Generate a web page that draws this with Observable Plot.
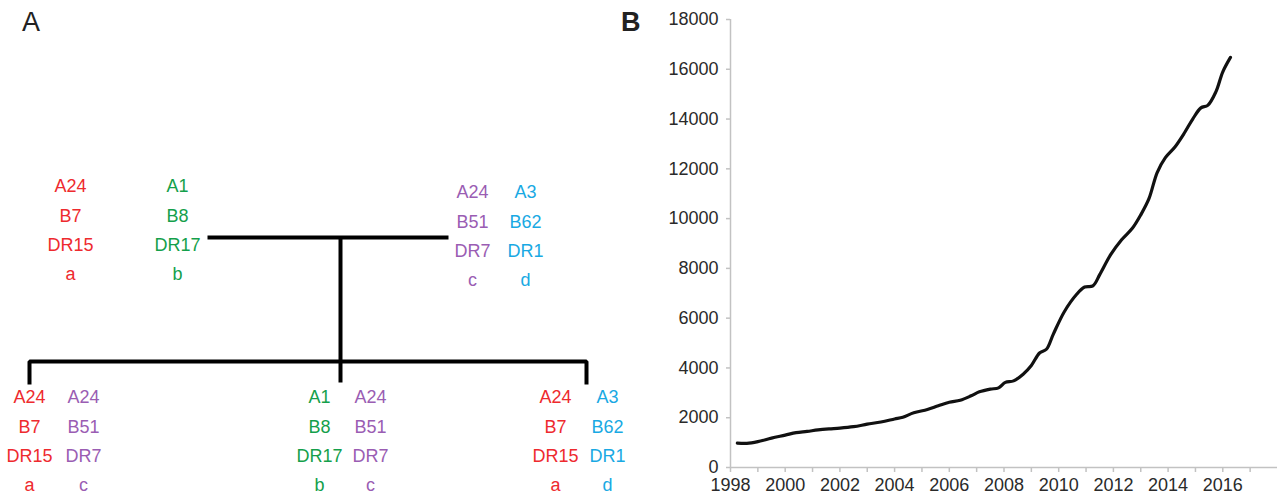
<!DOCTYPE html>
<html><head><meta charset="utf-8">
<script src="https://cdn.jsdelivr.net/npm/d3@7"></script>
<script src="https://cdn.jsdelivr.net/npm/@observablehq/plot@0.6"></script>
<style>
body{margin:0;background:#fff;}
#wrap{position:relative;width:1277px;height:494px;font-family:"Liberation Sans",Arial,sans-serif;overflow:hidden;}
#panelA{position:absolute;left:0;top:0;}
#panelB{position:absolute;left:620px;top:0;}
.lbl{position:absolute;font-size:27px;color:#222;line-height:1;font-family:"Liberation Sans",Arial,sans-serif;}
</style></head><body>
<div id="wrap">
<div id="panelA"></div><div id="panelB"></div>
<div class="lbl" style="left:22px;top:9px">A</div>
<div class="lbl" style="left:621px;top:9px;font-weight:600">B</div>
</div>
<script>
// ---------- Panel A data: HLA haplotypes and family ----------
const haplotypeIds = ["a", "b", "c", "d"];
const hlaA = ["A24", "A1", "A24", "A3"];
const hlaB = ["B7", "B8", "B51", "B62"];
const hlaDR = ["DR15", "DR17", "DR7", "DR1"];
const haplotypeColors = ["#ee2a2e", "#14a04b", "#9a5db3", "#19a9e3"];
const parentHaplotypes = [["a", "b"], ["c", "d"]];
const childHaplotypes = [["a", "c"], ["b", "c"], ["a", "d"]];

// ---------- Panel B data: cumulative count by year ----------
const years = [1998.25, 1998.6, 1999.0, 1999.5, 2000.0, 2000.4, 2000.8, 2001.2, 2001.6, 2002.0,
  2002.5, 2003.0, 2003.5, 2004.0, 2004.3, 2004.7, 2005.2, 2005.6, 2006.0, 2006.4,
  2006.8, 2007.1, 2007.5, 2007.8, 2008.05, 2008.35, 2008.7, 2009.0, 2009.3, 2009.55,
  2009.8, 2010.2, 2010.65, 2010.95, 2011.25, 2011.5, 2011.9, 2012.3, 2012.7, 2013.0,
  2013.3, 2013.6, 2013.9, 2014.25, 2014.6, 2014.9, 2015.2, 2015.45, 2015.75, 2016.0, 2016.28];
const counts = [980, 970, 1040, 1180, 1300, 1400, 1450, 1510, 1550, 1580,
  1640, 1740, 1830, 1950, 2020, 2200, 2330, 2480, 2620, 2700,
  2880, 3040, 3150, 3200, 3420, 3480, 3750, 4100, 4600, 4750,
  5350, 6250, 6950, 7250, 7300, 7750, 8550, 9150, 9620, 10150,
  10800, 11850, 12450, 12880, 13450, 14000, 14450, 14550, 15100, 15900, 16480];
const yTicks = [0, 2000, 4000, 6000, 8000, 10000, 12000, 14000, 16000, 18000];
const xTickLabels = [1998, 2000, 2002, 2004, 2006, 2008, 2010, 2012, 2014, 2016];
const xMinorTicks = d3.range(1998, 2018);

// ---------- Panel A layout (separate from data) ----------
const layoutA = {
  parents: [{cols: [70, 177], top: 186}, {cols: [472, 525], top: 192}],
  children: [{cols: [29, 83], top: 397}, {cols: [319, 370], top: 397}, {cols: [555, 607], top: 397}],
  rowStep: 29.3,
  couple: {x1: 207, x2: 448, y: 237, stemX: 340},
  sibship: {y: 361, left: 29, right: 586, drops: [[29, 384], [340, 382], [586, 384]]}
};

const hapIndex = id => haplotypeIds.indexOf(id);
const textRows = [];
function addPerson(haps, place) {
  haps.forEach((h, k) => {
    const i = hapIndex(h);
    const labels = [hlaA[i], hlaB[i], hlaDR[i], h];
    labels.forEach((t, r) => textRows.push({x: place.cols[k], y: place.top + r * layoutA.rowStep, text: t, color: haplotypeColors[i]}));
  });
}
parentHaplotypes.forEach((p, j) => addPerson(p, layoutA.parents[j]));
childHaplotypes.forEach((c, j) => addPerson(c, layoutA.children[j]));

const c = layoutA.couple, s = layoutA.sibship;
const segs = [];
const pushPath = (id, pts) => pts.forEach(([x, y]) => segs.push({id, x, y}));
pushPath("couple", [[c.x1, c.y], [c.x2, c.y]]);
pushPath("stem", [[c.stemX, c.y], [c.stemX, s.y]]);
pushPath("sib", [[s.drops[0][0], s.drops[0][1]], [s.left, s.y], [s.right, s.y], [s.drops[2][0], s.drops[2][1]]]);
pushPath("mid", [[s.drops[1][0], s.y], [s.drops[1][0], s.drops[1][1]]]);

const plotA = Plot.plot({
  width: 660, height: 494, margin: 0,
  style: {fontFamily: "Liberation Sans, Arial, sans-serif", background: "transparent", overflow: "visible"},
  x: {domain: [0, 660], range: [0, 660], axis: null},
  y: {domain: [0, 494], range: [0, 494], axis: null},
  marks: [
    Plot.line(segs, {x: "x", y: "y", z: "id", stroke: "#000", strokeWidth: 4, strokeLinejoin: "miter", strokeLinecap: "butt"}),
    Plot.text(textRows, {x: "x", y: "y", text: "text", fill: d => d.color, fontSize: 18, textAnchor: "middle", lineAnchor: "middle"})
  ]
});
document.getElementById("panelA").append(plotA);

// ---------- Panel B ----------
const series = years.map((y, i) => ({year: y, count: counts[i]}));
const plotB = Plot.plot({
  width: 657, height: 494,
  marginLeft: 110, marginRight: 0, marginTop: 19, marginBottom: 27,
  style: {fontFamily: "Liberation Sans, Arial, sans-serif", fontSize: "18px", background: "transparent", overflow: "visible"},
  x: {domain: [1998, 2018], label: null},
  y: {domain: [0, 18000], label: null},
  marks: [
    Plot.ruleX([1998], {stroke: "#c2c2c2", strokeWidth: 1.5}),
    Plot.ruleY([0], {stroke: "#c2c2c2", strokeWidth: 1.5}),
    Plot.axisY(yTicks, {tickSize: 4, tickPadding: 8, stroke: "#c2c2c2", strokeWidth: 1.5, fill: "#2a2a2a", fontSize: 18, tickFormat: d => String(d), label: null}),
    Plot.axisX(xMinorTicks, {tickSize: 5, tickPadding: 0, stroke: "#c2c2c2", strokeWidth: 1.5, tickFormat: () => "", label: null}),
    Plot.axisX(xTickLabels, {tickSize: 0, tickPadding: 11, fill: "#2a2a2a", fontSize: 18, tickFormat: d => String(d), label: null}),
    Plot.line(series, {x: "year", y: "count", stroke: "#111", strokeWidth: 3.2, curve: "catmull-rom", strokeLinejoin: "round", strokeLinecap: "round"})
  ]
});
document.getElementById("panelB").append(plotB);
</script>
</body></html>
